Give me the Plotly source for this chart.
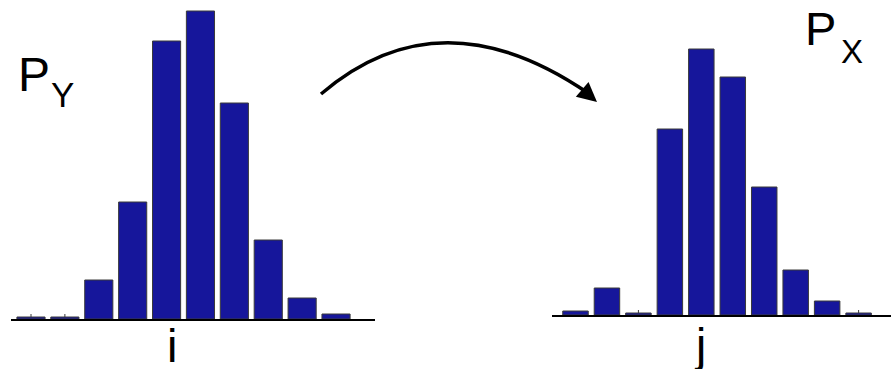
import plotly.graph_objects as go

W, H = 891, 369

# Data
categories = [1, 2, 3, 4, 5, 6, 7, 8, 9, 10]
p_y = [0.002, 0.002, 0.039, 0.117, 0.278, 0.308, 0.216, 0.079, 0.021, 0.005]
p_x = [0.004, 0.027, 0.002, 0.186, 0.266, 0.238, 0.128, 0.045, 0.014, 0.002]
p_y_err = [0.003, 0.003, 0, 0, 0, 0, 0, 0, 0, 0]
p_x_err = [0, 0, 0.003, 0, 0, 0, 0, 0, 0, 0.003]
zeros = [0] * 10

bar_color = "rgb(22,22,155)"
edge_color = "#3a3a3a"

fig = go.Figure()
fig.add_trace(go.Bar(
    x=categories, y=p_y, xaxis="x", yaxis="y", width=0.83,
    marker=dict(color=bar_color, line=dict(color=edge_color, width=1)),
    error_y=dict(type="data", array=p_y_err, arrayminus=zeros, symmetric=False,
                 color=edge_color, thickness=1, width=0),
    showlegend=False, hoverinfo="skip"))
fig.add_trace(go.Bar(
    x=categories, y=p_x, xaxis="x2", yaxis="y2", width=0.81,
    marker=dict(color=bar_color, line=dict(color=edge_color, width=1)),
    error_y=dict(type="data", array=p_x_err, arrayminus=zeros, symmetric=False,
                 color=edge_color, thickness=1, width=0),
    showlegend=False, hoverinfo="skip"))

axis_common = dict(showgrid=False, zeroline=False, showticklabels=False, ticks="")

fig.update_layout(
    width=W, height=H,
    margin=dict(l=0, r=0, t=0, b=0),
    paper_bgcolor="white", plot_bgcolor="white",
    font=dict(family="Liberation Sans, Arial, sans-serif", color="black"),
    xaxis=dict(domain=[11 / W, 375 / W], range=[0.41, 11.15], anchor="y",
               showline=True, linecolor="black", linewidth=1.5, **axis_common),
    yaxis=dict(domain=[50 / H, 1], range=[0, 0.319], anchor="x",
               showline=False, **axis_common),
    xaxis2=dict(domain=[552 / W, 1], range=[0.253, 11.03], anchor="y2",
                showline=True, linecolor="black", linewidth=1.5, **axis_common),
    yaxis2=dict(domain=[54 / H, 1], range=[0, 0.315], anchor="x2",
                showline=False, **axis_common),
)

def px(x):
    return x / W

def py(y):
    return 1 - y / H

# curved arrow
fig.add_shape(type="path", xref="paper", yref="paper",
              path=f"M {px(321)} {py(94)} Q {px(440)} {py(-8)} {px(588)} {py(93)}",
              line=dict(color="black", width=3.5))
fig.add_annotation(xref="paper", yref="paper", x=px(597), y=py(102),
                   ax=-14, ay=-12, showarrow=True, arrowhead=2, arrowsize=1.3,
                   arrowwidth=3, arrowcolor="black", text="")

def label(text, x, y, size, anchor="left"):
    fig.add_annotation(xref="paper", yref="paper", x=px(x), y=py(y), text=text,
                       showarrow=False, xanchor=anchor, yanchor="middle",
                       font=dict(size=size, color="black"))

label("P", 16, 74, 48)
label("Y", 49, 94, 35)
label("P", 803, 29, 47)
label("X", 839, 52, 33)
label("i", 171.5, 345, 47, anchor="center")
label("j", 700, 345, 46, anchor="center")

fig.write_html("out.html",
               config={"displayModeBar": False},
               post_script="document.body.style.margin='0';document.body.style.overflow='hidden';")
